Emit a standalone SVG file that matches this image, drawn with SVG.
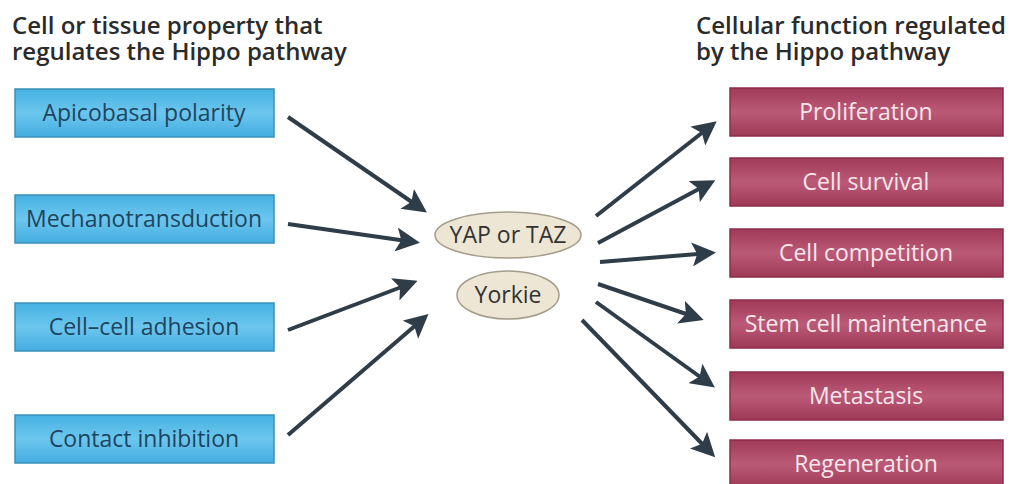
<svg xmlns="http://www.w3.org/2000/svg" width="1010" height="484" viewBox="0 0 1010 484">
<defs>
<linearGradient id="gBlue" x1="0" y1="0" x2="0" y2="1">
<stop offset="0" stop-color="#46b2e2"/><stop offset="0.5" stop-color="#6cc6ee"/><stop offset="1" stop-color="#44ade0"/>
</linearGradient>
<linearGradient id="gRed" x1="0" y1="0" x2="0" y2="1">
<stop offset="0" stop-color="#a03a58"/><stop offset="0.5" stop-color="#bb5a77"/><stop offset="1" stop-color="#9e3956"/>
</linearGradient>
<marker id="ah" markerWidth="6" markerHeight="6" refX="4.5" refY="3" orient="auto" markerUnits="strokeWidth" viewBox="0 0 6 6">
<path d="M0,0 L6,3 L0,6 L1.3,3 Z" fill="#2e3d48"/>
</marker>
</defs>
<style>
.title{font-family:"Open Sans",Lato,sans-serif;font-weight:600;font-size:24px;fill:#2b2b2b}
.lbox{fill:url(#gBlue);stroke:#3a90b8;stroke-width:1.5}
.rbox{fill:url(#gRed);stroke:#8a2e48;stroke-width:1.5}
.ltxt{font-family:"Open Sans",Lato,sans-serif;font-size:23px;fill:#1d4560;text-anchor:middle}
.rtxt{font-family:"Open Sans",Lato,sans-serif;font-size:23px;fill:#f6e6eb;text-anchor:middle}
.ell{fill:#ede6d5;stroke:#a59d8b;stroke-width:1.5}
.etxt{font-family:"Open Sans",Lato,sans-serif;font-size:23px;fill:#333;text-anchor:middle}
.conn line{stroke:#2e3d48;stroke-width:4;marker-end:url(#ah)}
</style>
<rect width="1010" height="484" fill="#ffffff"/>
<g id="title-left">
<text class="title" x="12" y="34">Cell or tissue property that</text>
<text class="title" x="12" y="60">regulates the Hippo pathway</text>
</g>
<g id="title-right">
<text class="title" x="696" y="34">Cellular function regulated</text>
<text class="title" x="696" y="60">by the Hippo pathway</text>
</g>
<g id="n-apicobasal"><rect class="lbox" x="15" y="89" width="259" height="48"/><text class="ltxt" x="144" y="121">Apicobasal polarity</text></g>
<g id="n-mechano"><rect class="lbox" x="15" y="195" width="259" height="48"/><text class="ltxt" x="144" y="227">Mechanotransduction</text></g>
<g id="n-adhesion"><rect class="lbox" x="15" y="303" width="259" height="48"/><text class="ltxt" x="144" y="335">Cell–cell adhesion</text></g>
<g id="n-contact"><rect class="lbox" x="15" y="415" width="259" height="48"/><text class="ltxt" x="144" y="447">Contact inhibition</text></g>
<g id="n-yap"><ellipse class="ell" cx="508" cy="235" rx="73" ry="23"/><text class="etxt" x="508" y="243">YAP or TAZ</text></g>
<g id="n-yorkie"><ellipse class="ell" cx="508" cy="295" rx="51" ry="24"/><text class="etxt" x="508" y="303">Yorkie</text></g>
<g id="n-prolif"><rect class="rbox" x="730" y="88" width="273" height="48"/><text class="rtxt" x="866" y="120">Proliferation</text></g>
<g id="n-survival"><rect class="rbox" x="730" y="158" width="273" height="48"/><text class="rtxt" x="866" y="190">Cell survival</text></g>
<g id="n-competition"><rect class="rbox" x="730" y="229" width="273" height="48"/><text class="rtxt" x="866" y="261">Cell competition</text></g>
<g id="n-stem"><rect class="rbox" x="730" y="300" width="273" height="48"/><text class="rtxt" x="866" y="332">Stem cell maintenance</text></g>
<g id="n-metastasis"><rect class="rbox" x="730" y="372" width="273" height="48"/><text class="rtxt" x="866" y="404">Metastasis</text></g>
<g id="n-regen"><rect class="rbox" x="730" y="440" width="273" height="48"/><text class="rtxt" x="866" y="472">Regeneration</text></g>
<g id="connectors" class="conn">
<line x1="288" y1="117" x2="422" y2="209"/>
<line x1="288" y1="224" x2="414" y2="242"/>
<line x1="288" y1="330" x2="412" y2="283"/>
<line x1="288" y1="435" x2="424" y2="318"/>
<line x1="596" y1="216" x2="712" y2="125"/>
<line x1="598" y1="243" x2="710" y2="183"/>
<line x1="600" y1="262" x2="710" y2="253"/>
<line x1="598" y1="284" x2="698" y2="318"/>
<line x1="596" y1="302" x2="710" y2="384"/>
<line x1="582" y1="320" x2="711" y2="453"/>
</g>
</svg>
